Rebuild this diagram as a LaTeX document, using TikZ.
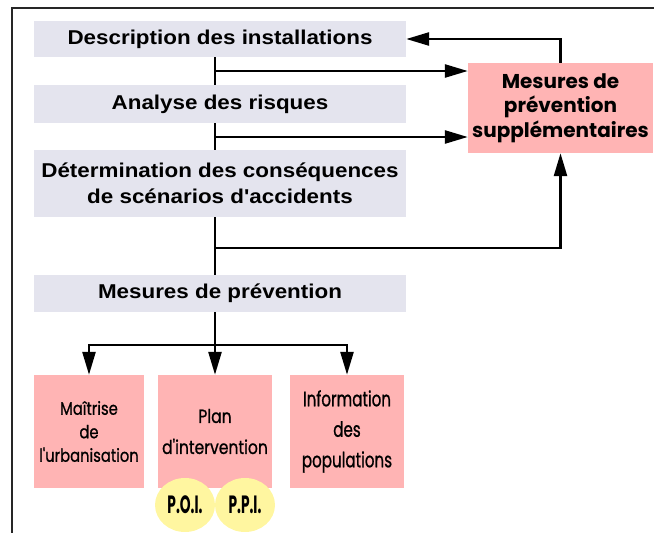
\documentclass[tikz,border=0pt]{standalone}
\usepackage{fontspec}
\setmainfont{Liberation Sans}
\usepackage{tikz}
\usetikzlibrary{arrows.meta,positioning,shapes.geometric}
\newfontfamily\stagefont{Liberation Sans}[FakeStretch=1.12]
\newfontfamily\roundfont{Poppins}
\newfontfamily\condfont{Poppins}[FakeStretch=0.82, FakeBold=0.8]
\newfontfamily\narrowfont{Poppins}[FakeStretch=0.72, FakeBold=0.8]
\newfontfamily\tightfont{Poppins}[FakeStretch=0.55]
\definecolor{cStage}{RGB}{228,228,238}
\definecolor{cMeasure}{RGB}{255,180,180}
\definecolor{cPlan}{RGB}{255,246,160}

\begin{document}
\begin{tikzpicture}[
  x=1pt, y=-1pt,
  >={Triangle[length=23pt, width=13pt]},
  stage/.style={fill=cStage, minimum width=372pt, inner sep=0pt, align=center,
                font=\stagefont\bfseries\fontsize{20}{26}\selectfont},
  extra/.style={fill=cMeasure, minimum width=185pt, minimum height=90pt, align=center,
                inner sep=0pt, font=\roundfont\bfseries\fontsize{20}{24.5}\selectfont},
  leaf/.style={fill=cMeasure, minimum height=113pt, inner sep=0pt, align=center},
  plan/.style={ellipse, fill=cPlan, minimum width=60pt, minimum height=54pt, inner sep=0pt,
               font=\tightfont\bfseries\fontsize{25}{25}\selectfont},
  conn/.style={line width=2.6pt},
]
\useasboundingbox (0,0) rectangle (654,533);

% ---------------- frame ----------------
\draw[line width=1.8pt, draw=black!85] (12,533) -- (12,8) -- (654,8);

% ---------------- study stages ----------------
\node (desc) [stage, minimum height=36pt] at (220,39)    {Description des installations};
\node (risk) [stage, minimum height=38pt] at (220,104)   {Analyse des risques};
\node (cons) [stage, minimum height=67pt] at (220,183.5) {Détermination des conséquences\\de scénarios d'accidents};
\node (prev) [stage, minimum height=37pt] at (220,293.5) {Mesures de prévention};

% ---------------- additional measures ----------------
\node (sup) [extra] at (560.5,108) {Mesures de\\prévention\\supplémentaires};

% ---------------- prevention measures ----------------
\node (urb)  [leaf, minimum width=110pt, font=\condfont\fontsize{18}{23.5}\selectfont] at (89,431.5)
  {Maîtrise\\de\\l'urbanisation};
\node (inter) [leaf, minimum width=114pt, font=\condfont\fontsize{19}{31}\selectfont] at (215,431.5)
  {Plan\\d'intervention};
\node (info) [leaf, minimum width=114pt, font=\narrowfont\fontsize{21}{30.5}\selectfont] at (347,431.5)
  {Information\\des\\populations};
\node (poi) [plan] at (185,505) {P.O.I.};
\node (ppi) [plan] at (245,505) {P.P.I.};

% ---------------- spine ----------------
\coordinate (t1) at (215,71);
\coordinate (t2) at (215,137);
\coordinate (t3) at (215,248);
\coordinate (fork) at (215,345);

\draw[conn] (desc.south -| t1) -- (risk.north -| t1);
\draw[conn] (risk.south -| t1) -- (cons.north -| t1);
\draw[conn] (cons.south -| t1) -- (prev.north -| t1);
\draw[conn] (prev.south -| t1) -- (fork);

\draw[conn,->] (t1) -- (t1 -| sup.west);
\draw[conn,->] (t2) -- (t2 -| sup.west);
\draw[conn,->] (t3) -| (sup.south);
\draw[conn,->] (sup.north) |- (desc.east);

\draw[conn,->] (fork) -- (inter.north);
\draw[conn,->] (fork) -| (urb.north);
\draw[conn,->] (fork) -| (info.north);

\end{tikzpicture}
\end{document}
